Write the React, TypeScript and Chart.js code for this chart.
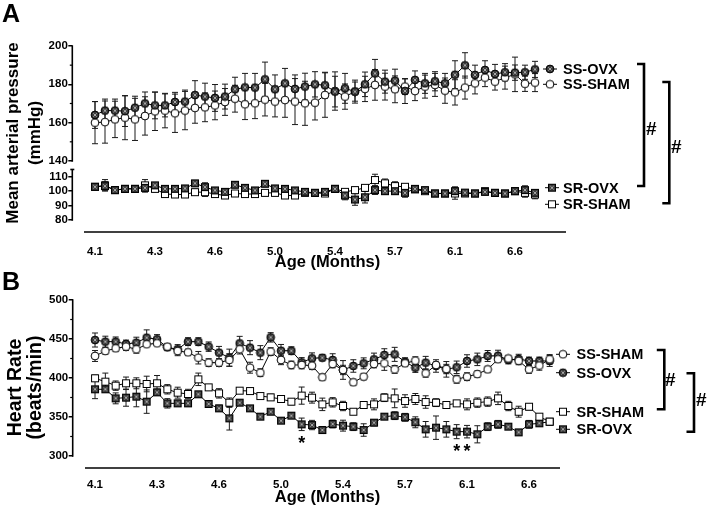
import React, { useEffect, useRef } from 'react';
import { Chart, registerables } from 'chart.js';

Chart.register(...registerables);

const FONT = '"Liberation Sans", Arial, Helvetica, sans-serif';

// ---------- shared x axis ----------
const xTickLabels = ['4.1', '4.3', '4.6', '5.0', '5.4', '5.7', '6.1', '6.6'];
const xTickStep = 6;

// ---------- Panel A : Mean arterial pressure (mmHg) ----------
const ssOvxA = [164, 166.3, 166.3, 166, 167.8, 170, 169, 169, 170.8, 171, 174.4, 173.6, 172.9, 173.6, 177.4, 178.4, 178.3, 182.6, 177.4, 180.5, 177.6, 178.8, 180, 179.5, 176.2, 177.9, 176.2, 180, 185.7, 181.4, 181.9, 176.5, 182.3, 180.5, 181.6, 180.5, 185, 189.9, 184.9, 187.5, 185.4, 186.3, 186.1, 186.3, 187.8];
const ssOvxAErr = [7, 6, 6, 8, 6, 6, 7, 6, 5, 6, 7.5, 7, 7, 6.5, 6.3, 7.3, 7.4, 9, 7.5, 7.8, 7.3, 7, 6.6, 6.8, 8, 7.8, 6, 6.4, 7.3, 6, 6, 6.5, 4.7, 5.2, 5, 5.2, 7.3, 6.6, 5.1, 4.8, 5, 4.5, 4, 3.7, 4.2];
const ssShamA = [160, 160.3, 161.7, 162.6, 161.7, 163.5, 165.9, 166.3, 164.9, 166.3, 167.7, 168, 169, 170.8, 172.5, 169.6, 170.1, 172, 171, 171.8, 171, 170.1, 170.4, 174.4, 176.5, 173.6, 176.2, 177.6, 179.7, 178.8, 177.4, 178.8, 176.5, 178.8, 179.7, 176.7, 175.8, 178.3, 180.5, 183.5, 181.4, 183.5, 185.2, 180.3, 180.9];
const ssShamAErr = [11, 11, 9.5, 11.5, 11, 10, 10, 9, 10, 10, 8, 7.5, 7.5, 7, 7, 8, 8, 8.5, 8, 9, 12, 11.5, 9, 11.6, 10, 6.6, 5, 6.6, 8, 7, 7, 4, 5, 6, 6, 6.6, 6.6, 6, 5.5, 4.7, 4.4, 6, 9, 4, 4.7];
const srOvxA = [103, 103.5, 100.7, 101.6, 101.6, 102.3, 104, 101.6, 101.6, 101.9, 105.4, 102.8, 100.5, 99.5, 104.4, 102.3, 100.5, 105.1, 101.9, 101.6, 100.5, 99.5, 98.8, 99.5, 101.6, 97, 94.2, 95.8, 100.7, 100, 100, 98.8, 101.6, 100.7, 98.4, 98.4, 100, 99, 98.4, 99.5, 98.8, 98.4, 100, 100.7, 98.8];
const srOvxAErr = [2, 3, 2, 2, 2, 3, 2, 2, 2, 2, 2, 3, 2, 2, 2, 2, 2, 2, 2, 2, 2, 2, 2, 2, 2, 3, 4, 4, 3, 2, 2, 3, 2, 2, 2, 2, 3, 2, 2, 2, 2, 2, 2, 3, 2];
const srShamA = [103, 104, 100.7, 101.6, 101.6, 104, 101.6, 98, 97.7, 97.7, 99.3, 99.3, 98, 97, 98.4, 98, 98, 98.8, 98.8, 97, 97, 98.8, 98.8, 98.4, 101.6, 99.5, 100.7, 102.3, 107.7, 105.4, 103.5, 103, 101.2, 100, 98.4, 98.4, 98.4, 98.4, 98.4, 100, 98.8, 98.4, 100, 98.8, 97.7];
const srShamAErr = [2, 4, 2, 2, 2, 4, 2, 2, 2, 2, 2, 3, 2, 2, 2, 2, 2, 2, 2, 2, 2, 2, 2, 2, 2, 2, 2, 2, 4, 3, 3, 2, 2, 2, 2, 2, 4, 2, 2, 2, 2, 2, 2, 3, 3];
const yHiTicksA = [140, 160, 180, 200];
const yHiMinorA = [150, 170, 190];
const yLoTicksA = [80, 90, 100, 110];
const yLoTopA = 115;

// ---------- Panel B : Heart rate (beats/min) ----------
const ssShamB = [428.2, 434.6, 438, 440.2, 436.8, 443.2, 444.4, 440.2, 434.6, 432.9, 426, 419.7, 419.7, 423.1, 436.8, 413.2, 406.8, 433.8, 423.1, 416.7, 416.7, 415.8, 400.9, 418, 410.3, 394.4, 401.7, 418, 418.8, 411, 418.8, 422.2, 406, 416.7, 411.5, 398.3, 401.7, 405, 411, 424, 425, 422, 411, 416, 424];
const ssShamBErr = [7, 4, 4, 5, 5, 3, 3, 4, 6, 4, 8, 5, 5, 8, 6, 7, 5, 5, 6, 5, 5, 5, 4, 5, 6, 4, 4, 5, 9, 5, 4, 5, 5, 4, 6, 5, 5, 4, 4, 4, 4, 5, 5, 6, 6];
const ssOvxB = [448.7, 446.6, 446.6, 443.6, 445.3, 451.7, 449.6, 439.3, 436.8, 446.6, 446.6, 440.2, 432.5, 426, 444.4, 438.9, 432.5, 452.1, 435, 435, 420.1, 425.2, 426, 423.1, 410.3, 415.4, 418.8, 423.9, 429.5, 430.3, 420.9, 413.2, 419.7, 415.4, 411.1, 413.7, 421.8, 423.9, 428.2, 428.6, 423.1, 424.4, 421.8, 421.8, 421.8];
const ssOvxBErr = [9, 7, 6, 5, 7, 10, 6, 4, 6, 5, 5, 6, 8, 11, 9, 9, 9, 6, 8, 5, 6, 7, 4, 8, 12, 8, 7, 8, 8, 9, 5, 6, 8, 8, 10, 8, 8, 8, 7, 7, 5, 6, 5, 5, 7];
const srShamB = [399.6, 395.3, 390.2, 393.2, 393.2, 392.3, 393.2, 385.5, 381.2, 379.5, 398.3, 388, 380.3, 368.4, 383.8, 383.3, 376.9, 375.2, 373.1, 369.7, 377.4, 374.8, 366.2, 368.8, 364.1, 356.8, 365.4, 366.2, 374.8, 373.9, 370.5, 373.1, 369.2, 368.4, 365.4, 367.5, 366.2, 368.4, 369.7, 373.9, 364.1, 356.8, 363.2, 350.4, 344];
const srShamBErr = [4, 11, 6, 8, 7, 10, 10, 6, 7, 6, 8, 3, 6, 6, 3, 3, 3, 4, 4, 4, 11, 7, 8, 6, 6, 3, 4, 7, 5, 12, 8, 7, 8, 5, 3, 3, 7, 6, 6, 8, 6, 7, 4, 3, 3];
const srOvxB = [385.5, 385.5, 373.9, 374.8, 376.1, 369.7, 381.6, 367.5, 367.5, 367.5, 379.1, 366.7, 361.1, 348.3, 368.4, 361.1, 350.4, 356.8, 345.3, 351.7, 340.6, 339.7, 333.3, 341, 338.9, 337.6, 333.3, 342.7, 350.4, 351.7, 349.6, 343.2, 334.2, 336.3, 334.2, 331.2, 331.2, 327.8, 337.6, 340.6, 337.6, 330.3, 340.6, 341.9, 344];
const srOvxBErr = [12, 3, 7, 11, 13, 15, 4, 6, 4, 3, 3, 4, 4, 15, 3, 3, 3, 3, 3, 3, 8, 6, 4, 5, 7, 5, 8, 4, 3, 5, 5, 7, 10, 15, 10, 9, 8, 11, 5, 5, 3, 3, 5, 4, 4];
const yTicksB = [300, 350, 400, 450, 500];
const yMinorB = [325, 375, 425, 475];
const starIdxB = [20, 35, 36];

type Kind = 'ovxCircle' | 'shamCircle' | 'ovxSquare' | 'shamSquare';

function makeMarker(kind: Kind): HTMLCanvasElement {
  const c = document.createElement('canvas');
  c.width = 10;
  c.height = 10;
  const g = c.getContext('2d') as CanvasRenderingContext2D;
  g.lineWidth = 1;
  g.strokeStyle = '#000';
  const dark = kind === 'ovxCircle' || kind === 'ovxSquare';
  g.fillStyle = dark ? '#3a3a3a' : '#fff';
  if (kind === 'ovxCircle' || kind === 'shamCircle') {
    g.beginPath();
    g.arc(5, 5, 3.9, 0, Math.PI * 2);
    g.fill();
    g.stroke();
  } else {
    g.fillRect(1.5, 1.5, 7, 7);
    g.strokeRect(1.5, 1.5, 7, 7);
  }
  if (dark) {
    g.strokeStyle = '#a8a8a8';
    g.beginPath();
    g.moveTo(3.3, 3.3); g.lineTo(6.7, 6.7);
    g.moveTo(6.7, 3.3); g.lineTo(3.3, 6.7);
    g.stroke();
  }
  return c;
}

function line(ctx: CanvasRenderingContext2D, x1: number, y1: number, x2: number, y2: number) {
  ctx.beginPath();
  ctx.moveTo(x1, y1);
  ctx.lineTo(x2, y2);
  ctx.stroke();
}

const errorBarPlugin = {
  id: 'errorBars',
  beforeDatasetsDraw(chart: any) {
    const ctx = chart.ctx as CanvasRenderingContext2D;
    const xs = chart.scales.x;
    ctx.save();
    ctx.strokeStyle = '#1a1a1a';
    ctx.lineWidth = 1;
    chart.data.datasets.forEach((ds: any) => {
      const ys = chart.scales[ds.yAxisID];
      ds.data.forEach((p: any, i: number) => {
        const e = ds.errors[i];
        const x = xs.getPixelForValue(p.x);
        const yt = ys.getPixelForValue(p.y + e);
        const yb = ys.getPixelForValue(p.y - e);
        line(ctx, x, yt, x, yb);
        line(ctx, x - 3, yt, x + 3, yt);
        line(ctx, x - 3, yb, x + 3, yb);
      });
    });
    ctx.restore();
  },
};

function xScaleOpts(min: number, max: number, height: number, pad: number) {
  return {
    type: 'linear',
    position: 'bottom',
    min,
    max,
    border: { display: false },
    grid: { display: false, drawTicks: false },
    ticks: {
      color: '#000',
      font: { family: FONT, size: 11.5, weight: 'bold' },
      padding: pad,
      autoSkip: false,
      maxRotation: 0,
      callback: (v: number) => xTickLabels[Math.round(v / xTickStep)] ?? '',
    },
    afterBuildTicks: (s: any) => {
      s.ticks = xTickLabels.map((_, k) => ({ value: k * xTickStep }));
    },
    afterFit: (s: any) => {
      s.height = height;
    },
  };
}

function yScaleOpts(min: number, max: number, tickVals: number[], width: number, extra: any = {}) {
  return {
    type: 'linear',
    position: 'left',
    min,
    max,
    border: { display: false },
    grid: { display: true, drawOnChartArea: false, drawTicks: true, tickLength: 4, color: '#000', lineWidth: 1.5 },
    ticks: {
      color: '#000',
      font: { family: FONT, size: 11.5, weight: 'bold' },
      padding: 0.5,
      autoSkip: false,
      callback: (v: number) => String(v),
    },
    afterBuildTicks: (s: any) => {
      s.ticks = tickVals.map((v) => ({ value: v }));
    },
    afterFit: (s: any) => {
      s.width = width;
    },
    ...extra,
  };
}

function series(label: string, values: number[], errors: number[], yAxisID: string, img: HTMLCanvasElement) {
  return {
    label,
    data: values.map((v, i) => ({ x: i, y: v })),
    errors,
    yAxisID,
    borderColor: '#000',
    borderWidth: 1,
    pointStyle: img,
    pointRadius: 4,
    fill: false,
    tension: 0,
  };
}

interface LegendEntry { label: string; kind: Kind; mx: number; my: number; tx: number; ty: number; }

function drawLegend(ctx: CanvasRenderingContext2D, entries: LegendEntry[], imgs: Record<Kind, HTMLCanvasElement>) {
  entries.forEach((e) => {
    ctx.strokeStyle = '#000';
    ctx.lineWidth = 1;
    line(ctx, e.mx - 7, e.my, e.mx + 7, e.my);
    ctx.drawImage(imgs[e.kind], e.mx - 5, e.my - 5);
    ctx.fillStyle = '#000';
    ctx.font = `bold 14.5px ${FONT}`;
    ctx.textAlign = 'left';
    ctx.textBaseline = 'alphabetic';
    ctx.fillText(e.label, e.tx, e.ty);
  });
}

function drawBracket(ctx: CanvasRenderingContext2D, x: number, y1: number, y2: number, arm: number, hx: number, hy: number) {
  ctx.strokeStyle = '#000';
  ctx.lineWidth = 2.6;
  ctx.lineJoin = 'miter';
  ctx.beginPath();
  ctx.moveTo(x - arm, y1);
  ctx.lineTo(x, y1);
  ctx.lineTo(x, y2);
  ctx.lineTo(x - arm, y2);
  ctx.stroke();
  ctx.font = `bold 19px ${FONT}`;
  ctx.textAlign = 'left';
  ctx.textBaseline = 'alphabetic';
  ctx.fillStyle = '#000';
  ctx.fillText('#', hx, hy);
}

function drawRotated(ctx: CanvasRenderingContext2D, text: string, x: number, y: number, size: number) {
  ctx.save();
  ctx.translate(x, y);
  ctx.rotate(-Math.PI / 2);
  ctx.font = `bold ${size}px ${FONT}`;
  ctx.textAlign = 'center';
  ctx.textBaseline = 'alphabetic';
  ctx.fillStyle = '#000';
  ctx.fillText(text, 0, 0);
  ctx.restore();
}

export default function App() {
  const refA = useRef<HTMLCanvasElement>(null);
  const refB = useRef<HTMLCanvasElement>(null);

  useEffect(() => {
    const imgs: Record<Kind, HTMLCanvasElement> = {
      ovxCircle: makeMarker('ovxCircle'),
      shamCircle: makeMarker('shamCircle'),
      ovxSquare: makeMarker('ovxSquare'),
      shamSquare: makeMarker('shamSquare'),
    };

    const decorA = {
      id: 'decorA',
      afterDraw(chart: any) {
        const ctx = chart.ctx as CanvasRenderingContext2D;
        const ca = chart.chartArea;
        const xs = chart.scales.x;
        const hi = chart.scales.yHi;
        const lo = chart.scales.yLo;
        ctx.save();
        ctx.strokeStyle = '#000';
        ctx.lineWidth = 1.6;
        line(ctx, ca.left, hi.getPixelForValue(yHiTicksA[yHiTicksA.length - 1]) - 0.8, ca.left, hi.getPixelForValue(yHiTicksA[0]) + 0.8);
        line(ctx, ca.left, lo.getPixelForValue(yLoTopA), ca.left, lo.getPixelForValue(yLoTicksA[0]) + 0.8);
        line(ctx, ca.left - 2, lo.getPixelForValue(yLoTopA), ca.left + 2, lo.getPixelForValue(yLoTopA));
        line(ctx, xs.getPixelForValue(-1.1), ca.bottom, ca.right, ca.bottom);
        ctx.lineWidth = 1.2;
        yHiMinorA.forEach((v) => line(ctx, ca.left - 2.5, hi.getPixelForValue(v), ca.left, hi.getPixelForValue(v)));
        ctx.fillStyle = '#000';
        ctx.font = `bold 25px ${FONT}`;
        ctx.textAlign = 'left';
        ctx.textBaseline = 'alphabetic';
        ctx.fillText('A', 2, 22);
        ctx.font = `bold 16.5px ${FONT}`;
        ctx.textAlign = 'center';
        ctx.fillText('Age (Months)', 327.5, 267);
        drawRotated(ctx, 'Mean arterial pressure', 17.5, 133, 17);
        drawRotated(ctx, '(mmHg)', 39.5, 133, 17);
        drawLegend(ctx, [
          { label: 'SS-OVX', kind: 'ovxCircle', mx: 550, my: 69, tx: 563, ty: 74 },
          { label: 'SS-SHAM', kind: 'shamCircle', mx: 550, my: 84.3, tx: 563, ty: 89.3 },
          { label: 'SR-OVX', kind: 'ovxSquare', mx: 552, my: 187.7, tx: 563, ty: 192.7 },
          { label: 'SR-SHAM', kind: 'shamSquare', mx: 552, my: 204.3, tx: 563, ty: 209.3 },
        ], imgs);
        drawBracket(ctx, 644, 64, 186, 7, 646, 135);
        drawBracket(ctx, 669.3, 82, 203.3, 7, 671, 152.7);
        ctx.restore();
      },
    };

    const decorB = {
      id: 'decorB',
      afterDraw(chart: any) {
        const ctx = chart.ctx as CanvasRenderingContext2D;
        const ca = chart.chartArea;
        const xs = chart.scales.x;
        const ys = chart.scales.y;
        ctx.save();
        ctx.strokeStyle = '#000';
        ctx.lineWidth = 1.6;
        line(ctx, ca.left, ys.getPixelForValue(yTicksB[yTicksB.length - 1]) - 0.8, ca.left, ys.getPixelForValue(yTicksB[0]) + 0.8);
        line(ctx, xs.getPixelForValue(-0.97), ca.bottom, ca.right, ca.bottom);
        ctx.lineWidth = 1.2;
        yMinorB.forEach((v) => line(ctx, ca.left - 2.5, ys.getPixelForValue(v), ca.left, ys.getPixelForValue(v)));
        ctx.fillStyle = '#000';
        ctx.font = `bold 25px ${FONT}`;
        ctx.textAlign = 'left';
        ctx.textBaseline = 'alphabetic';
        ctx.fillText('B', 2, 20);
        ctx.font = `bold 18px ${FONT}`;
        ctx.textAlign = 'center';
        starIdxB.forEach((i) => {
          ctx.fillText('*', xs.getPixelForValue(i), ys.getPixelForValue(srOvxB[i]) + 25);
        });
        ctx.font = `bold 16.5px ${FONT}`;
        ctx.fillText('Age (Months)', 327.5, 231.8);
        drawRotated(ctx, 'Heart Rate', 20.5, 117.5, 19.5);
        drawRotated(ctx, '(beats/min)', 41, 117.5, 19.5);
        drawLegend(ctx, [
          { label: 'SS-SHAM', kind: 'shamCircle', mx: 563, my: 84.3, tx: 576.5, ty: 89.3 },
          { label: 'SS-OVX', kind: 'ovxCircle', mx: 563, my: 102.7, tx: 576.5, ty: 107.7 },
          { label: 'SR-SHAM', kind: 'shamSquare', mx: 563, my: 141.7, tx: 576.5, ty: 146.7 },
          { label: 'SR-OVX', kind: 'ovxSquare', mx: 563, my: 159.3, tx: 576.5, ty: 164.3 },
        ], imgs);
        drawBracket(ctx, 664.3, 80, 139.3, 7.5, 665, 116);
        drawBracket(ctx, 694, 103.3, 161.7, 7.5, 696, 136);
        ctx.restore();
      },
    };

    const common = {
      responsive: false,
      maintainAspectRatio: false,
      animation: false,
      events: [],
      plugins: { legend: { display: false }, tooltip: { enabled: false } },
    };

    const chartA = new Chart(refA.current as HTMLCanvasElement, {
      type: 'line',
      data: {
        datasets: [
          series('SS-OVX', ssOvxA, ssOvxAErr, 'yHi', imgs.ovxCircle),
          series('SS-SHAM', ssShamA, ssShamAErr, 'yHi', imgs.shamCircle),
          series('SR-OVX', srOvxA, srOvxAErr, 'yLo', imgs.ovxSquare),
          series('SR-SHAM', srShamA, srShamAErr, 'yLo', imgs.shamSquare),
        ] as any,
      },
      options: {
        ...common,
        layout: { padding: { left: 0, right: 142, top: 46, bottom: 0 } },
        scales: {
          x: xScaleOpts(-2.27, 47.1, 40, 12.5),
          yLo: yScaleOpts(71.7, 118.1, yLoTicksA, 72.3, { stack: 'mapA', stackWeight: 67 }),
          yHi: yScaleOpts(137.9, 200, yHiTicksA, 72.3, { stack: 'mapA', stackWeight: 119 }),
        } as any,
      } as any,
      plugins: [errorBarPlugin, decorA],
    });

    const chartB = new Chart(refB.current as HTMLCanvasElement, {
      type: 'line',
      data: {
        datasets: [
          series('SS-SHAM', ssShamB, ssShamBErr, 'y', imgs.shamCircle),
          series('SS-OVX', ssOvxB, ssOvxBErr, 'y', imgs.ovxCircle),
          series('SR-SHAM', srShamB, srShamBErr, 'y', imgs.shamSquare),
          series('SR-OVX', srOvxB, srOvxBErr, 'y', imgs.ovxSquare),
        ] as any,
      },
      options: {
        ...common,
        layout: { padding: { left: 0, right: 148, top: 30, bottom: 0 } },
        scales: {
          x: xScaleOpts(-2.16, 45.0, 39, 9.5),
          y: yScaleOpts(284.6, 500, yTicksB, 72.7),
        } as any,
      } as any,
      plugins: [errorBarPlugin, decorB],
    });

    return () => {
      chartA.destroy();
      chartB.destroy();
    };
  }, []);

  return (
    <div style={{ position: 'fixed', left: 0, top: 0, width: 708, height: 507, background: '#fff', overflow: 'hidden' }}>
      <canvas ref={refA} width={708} height={272} style={{ position: 'absolute', left: 0, top: 0, width: 708, height: 272 }} />
      <canvas ref={refB} width={708} height={237} style={{ position: 'absolute', left: 0, top: 270, width: 708, height: 237 }} />
    </div>
  );
}
